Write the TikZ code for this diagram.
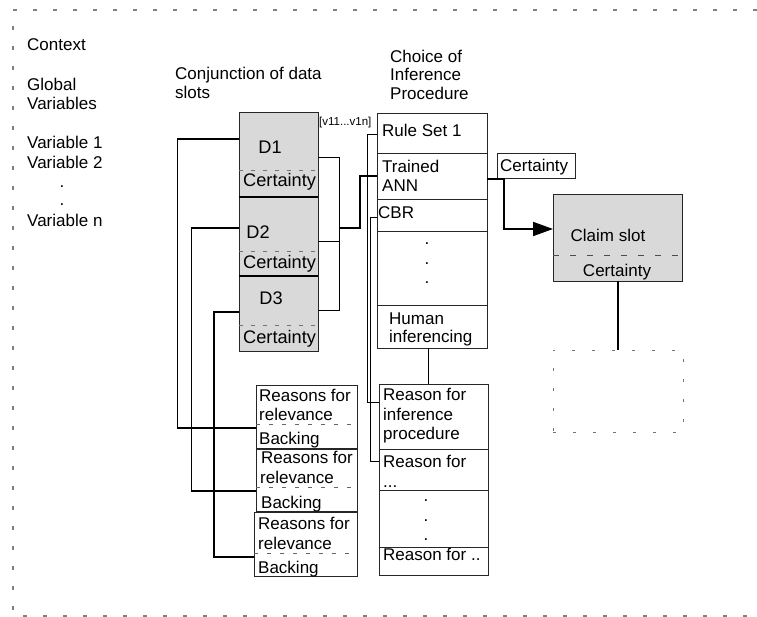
\documentclass[tikz,border=0pt]{standalone}
\usepackage{fontspec}
\setmainfont{Liberation Sans}
\usetikzlibrary{arrows.meta,calc}
\definecolor{slotgray}{RGB}{217,217,217}
\newcommand\fsN{\fontsize{17}{20}\selectfont}
\newcommand\fsD{\fontsize{18.2}{21}\selectfont}
\newcommand\fsS{\fontsize{11.5}{13}\selectfont}
\begin{document}
\begin{tikzpicture}[x=1pt,y=-1pt,
  cell/.style={draw=black!85, line width=0.9pt, anchor=north west, inner sep=0pt, outer sep=0pt},
  slot/.style={cell, fill=slotgray},
  lbl/.style={anchor=west, inner sep=0pt, text height=12pt, text depth=0pt, font=\fsN},
  dlbl/.style={anchor=center, inner sep=0pt, text height=13pt, text depth=0pt, font=\fsD},
  dotl/.style={anchor=base, inner sep=0pt, font=\fsN},
  framedash/.style={draw=black!50, line width=1.2pt, dash pattern=on 4pt off 16pt},
  ddash/.style={draw=black!55, line width=0.8pt, dash pattern=on 4pt off 8pt},
  cdash/.style={draw=black!70, line width=0.8pt, dash pattern=on 6pt off 11pt},
  rdash/.style={draw=black!60, line width=0.8pt, dash pattern=on 4pt off 9pt},
  thinc/.style={draw=black, line width=0.9pt},
  thickc/.style={draw=black, line width=1.9pt},
]
\useasboundingbox (0,0) rectangle (757,617);

% outer frame
\draw[framedash] (757,10) -- (13,10) -- (13,616) -- (757,616);

% left texts
\node[lbl] (ctx) at (27,45) {Context};
\node[lbl] (glob1) at (27,85) {Global};
\node[lbl] (glob2) at (27,104) {Variables};
\node[lbl] (var1) at (27,143) {Variable 1};
\node[lbl] (var2) at (27,163) {Variable 2};
\node[dotl] (vd1) at (62,188) {.};
\node[dotl] (vd2) at (62,206) {.};
\node[lbl] (varn) at (27,221) {Variable n};

% titles
\node[lbl] (conj1) at (175,74) {Conjunction of data};
\node[lbl] (conj2) at (175,93) {slots};
\node[lbl] (cho1) at (390,57) {Choice of};
\node[lbl] (cho2) at (390,75) {Inference};
\node[lbl] (cho3) at (390,94) {Procedure};

% data slots
\node[slot, minimum width=79pt, minimum height=85pt] (d1) at (239,112) {};
\node[slot, minimum width=79pt, minimum height=79pt] (d2) at (239,197) {};
\node[slot, minimum width=79pt, minimum height=75pt] (d3) at (239,276) {};
\draw[thickc] (d1.south west) -- (d1.south east);
\draw[thickc] (d2.south west) -- (d2.south east);
\draw[ddash] ([yshift=-58pt]d1.north west) -- ([yshift=-58pt]d1.north east);
\draw[ddash] ([yshift=-54pt]d2.north west) -- ([yshift=-54pt]d2.north east);
\draw[ddash] ([yshift=-49pt]d3.north west) -- ([yshift=-49pt]d3.north east);
\node[dlbl] (d1t) at (270,147) {D1};
\node[dlbl, anchor=west] (d1c) at (243,180) {Certainty};
\node[dlbl] (d2t) at (258,232) {D2};
\node[dlbl, anchor=west] (d2c) at (243,262) {Certainty};
\node[dlbl] (d3t) at (271,298) {D3};
\node[dlbl, anchor=west] (d3c) at (243,337) {Certainty};
\node[anchor=west, inner sep=0pt, font=\fsS] (vrange) at (319,123) {[v11...v1n]};

% choice of inference procedure column
\node[cell, minimum width=110pt, minimum height=40pt] (rule) at (377,113) {};
\node[cell, minimum width=110pt, minimum height=46pt] (ann) at (377,153) {};
\node[cell, minimum width=110pt, minimum height=32pt] (cbr) at (377,199) {};
\node[cell, minimum width=110pt, minimum height=74pt] (cdots) at (377,231) {};
\node[cell, minimum width=110pt, minimum height=43pt] (human) at (377,305) {};
\node[lbl] (rulet) at (382,131) {Rule Set 1};
\node[lbl] (annt1) at (382,167) {Trained};
\node[lbl] (annt2) at (382,186) {ANN};
\node[lbl] (cbrt) at (378,213) {CBR};
\node[dotl] (cd1) at (427,245) {.};
\node[dotl] (cd2) at (427,265) {.};
\node[dotl] (cd3) at (427,284) {.};
\node[lbl] (hum1) at (389,318) {Human};
\node[lbl] (hum2) at (389,336) {inferencing};

% certainty label box
\node[cell, minimum width=78pt, minimum height=25pt] (cert) at (497,153) {};
\node[lbl] (certt) at (500,166) {Certainty};

% claim slot
\node[slot, minimum width=129pt, minimum height=87pt] (claim) at (553,194) {};
\draw[cdash] ([yshift=-61pt]claim.north west) -- ([yshift=-61pt]claim.north east);
\node[lbl, anchor=center] (claimt) at (608,236) {Claim slot};
\node[lbl, anchor=center] (claimc) at (617,271) {Certainty};

% dotted future box
\node[anchor=north west, inner sep=0pt, outer sep=0pt, minimum width=130pt, minimum height=82pt,
      draw=black!55, line width=1pt, dash pattern=on 3pt off 17pt] (future) at (553,350) {};

% reasons for relevance boxes
\node[cell, minimum width=101pt, minimum height=63pt] (rb1) at (256,385) {};
\node[cell, minimum width=101pt, minimum height=62pt] (rb2) at (256,449) {};
\node[cell, minimum width=103pt, minimum height=64pt] (rb3) at (254,512) {};
\draw[rdash] ([yshift=-39pt]rb1.north west) -- ([yshift=-39pt]rb1.north east);
\draw[rdash] ([yshift=-38pt]rb2.north west) -- ([yshift=-38pt]rb2.north east);
\draw[rdash] ([yshift=-41pt]rb3.north west) -- ([yshift=-41pt]rb3.north east);
\node[lbl] (rb1a) at (259,395) {Reasons for};
\node[lbl] (rb1b) at (259,414) {relevance};
\node[lbl] (rb1c) at (259,438) {Backing};
\node[lbl] (rb2a) at (261,457) {Reasons for};
\node[lbl] (rb2b) at (260,477) {relevance};
\node[lbl] (rb2c) at (261,502) {Backing};
\node[lbl] (rb3a) at (258,523) {Reasons for};
\node[lbl] (rb3b) at (258,543) {relevance};
\node[lbl] (rb3c) at (258,567) {Backing};

% reason for inference procedure column
\node[cell, minimum width=109pt, minimum height=65pt] (rinf) at (379,384) {};
\node[cell, minimum width=109pt, minimum height=41pt] (rfor) at (379,449) {};
\node[cell, minimum width=109pt, minimum height=57pt] (rdots) at (379,490) {};
\node[cell, minimum width=109pt, minimum height=28pt] (rlast) at (379,547) {};
\node[lbl] (rinf1) at (383,394) {Reason for};
\node[lbl] (rinf2) at (383,414) {inference};
\node[lbl] (rinf3) at (383,433) {procedure};
\node[lbl] (rfor1) at (383,461) {Reason for};
\node[anchor=base west, inner sep=0pt, font=\fsN] (rfor2) at (383,487) {...};
\node[dotl] (rd1) at (426,501) {.};
\node[dotl] (rd2) at (426,521) {.};
\node[dotl] (rd3) at (426,540) {.};
\node[lbl] (rlastt) at (383,554) {Reason for ..};

% connector coordinates
\coordinate (l1a) at (177,139);
\coordinate (l1b) at (177,428);
\coordinate (l2a) at (191,228);
\coordinate (l2b) at (191,491);
\coordinate (l3a) at (214,312);
\coordinate (l3b) at (214,557);
\coordinate (bra) at (339,157);
\coordinate (brb) at (339,310);
\coordinate (brc) at (339,241);
\coordinate (brj) at (339,228);
\coordinate (brk) at (360,228);
\coordinate (arra) at (504,179);
\coordinate (arrb) at (504,229);
\coordinate (rsa) at (367,134);
\coordinate (rsb) at (367,402);
\coordinate (cba) at (370,217);
\coordinate (cbb) at (370,461);

% data slots to reasons for relevance
\draw[thickc] ([yshift=-27pt]d1.north west) -- (l1a);
\draw[thinc] (l1a) -- (l1b);
\draw[thickc] (l1b) -- ([yshift=-43pt]rb1.north west);
\draw[thickc] ([yshift=-31pt]d2.north west) -- (l2a);
\draw[thinc] (l2a) -- (l2b);
\draw[thickc] (l2b) -- ([yshift=-42pt]rb2.north west);
\draw[thickc] ([yshift=-36pt]d3.north west) -- (l3a) -- (l3b) -- ([yshift=-45pt]rb3.north west);

% bracket to inference procedure
\draw[thinc] ([yshift=-45pt]d1.north east) -- (bra) -- (brb) -- ([yshift=-34pt]d3.north east);
\draw[thinc] ([yshift=-44pt]d2.north east) -- (brc);
\draw[thickc] (brj) -- (brk) |- (ann.west);

% inference procedure to claim
\draw[thickc, -{Triangle[length=20pt,width=14pt]}] ([yshift=-3pt]ann.east) -- (arra) -- (arrb) -- ([yshift=8.5pt]claim.west);
\draw[thickc, line width=2.2pt] ([xshift=0.5pt]claim.south) -- ([xshift=0.5pt]claim.south |- future.north);

% choice column to reasons
\draw[thinc] ([xshift=-4pt]human.south) -- ([xshift=-4pt]human.south |- rinf.north);
\draw[thinc] ([yshift=-21pt]rule.north west) -- (rsa) -- (rsb) -- ([yshift=-18pt]rinf.north west);
\draw[thinc] ([yshift=-18pt]cbr.north west) -- (cba) -- (cbb) -- ([yshift=-12pt]rfor.north west);

\end{tikzpicture}
\end{document}
